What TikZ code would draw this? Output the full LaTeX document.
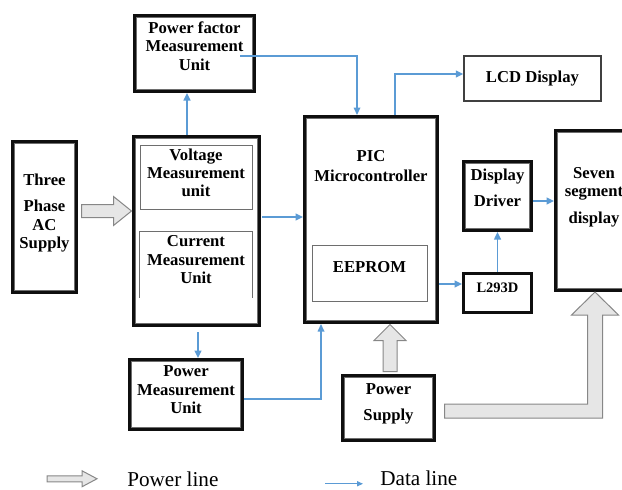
\documentclass[tikz,border=0pt]{standalone}
\usepackage{fontspec}
\setmainfont{Liberation Serif}
\usetikzlibrary{arrows.meta,positioning,calc}
\definecolor{bkedge}{RGB}{15,15,15}
\definecolor{bkinner}{RGB}{110,110,110}
\definecolor{bkdata}{RGB}{91,155,213}
\definecolor{bkpwr}{RGB}{230,230,230}
\definecolor{bkpwredge}{RGB}{135,135,135}
\tikzset{
  dbl/.style={draw=bkedge, line width=1.8pt, inner sep=0pt},
  frame/.style={draw=bkinner, line width=0.5pt},
  sub/.style={draw=bkinner, line width=0.6pt, inner sep=0pt},
  lcdbox/.style={draw=black!75, line width=0.9pt, inner sep=0pt, font=\fontsize{10}{11}\selectfont\bfseries},
  txt/.style={align=center, inner sep=0pt, font=\fontsize{10}{11}\selectfont\bfseries},
  dat/.style={-{Triangle[length=4.5pt,width=4pt]}, draw=bkdata, line width=1.1pt},
  tdat/.style={dat, line width=0.7pt},
  pwr/.style={draw=bkpwredge, fill=bkpwr, line width=0.6pt, line join=miter},
  leg/.style={font=\fontsize{12.7}{14}\selectfont, inner sep=0pt}
}
\begin{document}
\begin{tikzpicture}[x=0.6pt, y=-0.6pt]
  \useasboundingbox (0,0) rectangle (622,489);
  \clip (0,0) rectangle (622,489);

  % boxes
  \node[dbl, minimum width=38.4pt, minimum height=90.6pt] (tp) at (44.5,217) {};
  \node[txt, below=20.4pt of tp.north] (tp-t) {Three\\[4.5pt]Phase\\AC\\Supply};

  \node[dbl, minimum width=72pt, minimum height=45.6pt] (pf) at (194.5,53.5) {};
  \node[txt, below=4.4pt of pf.north] (pf-t) {Power factor\\Measurement\\Unit};

  \node[dbl, minimum width=75.6pt, minimum height=113.4pt] (vc) at (196.5,231) {};
  \node[sub, minimum width=67.2pt, minimum height=38.4pt] (vol) at (196,177) {};
  \node[txt, below=2.3pt of vol.north] (vol-t) {Voltage\\Measurement\\unit};
  \node[sub, draw=none, minimum width=67.2pt, minimum height=39pt] (cur) at (196,264.5) {};
  \node[txt, below=2.3pt of cur.north] (cur-t) {Current\\Measurement\\Unit};

  \node[dbl, minimum width=67.8pt, minimum height=42pt] (pm) at (186,394.5) {};
  \node[txt, below=4.6pt of pm.north] (pm-t) {Power\\Measurement\\Unit};

  \node[dbl, minimum width=79.8pt, minimum height=123.6pt] (pic) at (371,219.5) {};
  \node[txt, below=21pt of pic.north] (pic-t) {PIC\\[0.8pt]Microcontroller};
  \node[sub, minimum width=69pt, minimum height=33.6pt] (eep) at (369.5,273) {};
  \node[txt, below=10pt of eep.north] (eep-t) {EEPROM};

  \node[dbl, minimum width=55.2pt, minimum height=39pt] (ps) at (388.5,408) {};
  \node[txt, below=5.4pt of ps.north] (ps-t) {Power\\[5pt]Supply};

  \node[lcdbox, minimum width=82.2pt, minimum height=27pt] (lcd) at (532.5,78.5) {LCD Display};

  \node[dbl, minimum width=40.8pt, minimum height=41.4pt] (dd) at (497.5,196) {};
  \node[txt, below=5pt of dd.north] (dd-t) {Display\\[5pt]Driver};

  \node[dbl, minimum width=40.8pt, minimum height=23.4pt] (l293) at (497.5,292.5) {};
  \node[txt, font=\fontsize{8.7}{10}\selectfont\bfseries, below=6.7pt of l293.north] (l293-t) {L293D};

  \node[dbl, minimum width=46.2pt, minimum height=96pt] (seg) at (594,210.5) {};
  \node[txt, below=22.8pt of seg.north] (seg-t) {Seven\\segment\\[5pt]display};

  % inner frames
  \foreach \n in {tp,pf,vc,pm,pic,ps,dd,seg}
    \draw[frame] ($(\n.north west)+(2.1pt,-2.1pt)$) rectangle ($(\n.south east)+(-2.1pt,2.1pt)$);
  \draw[sub] (cur.south west) |- (cur.north east) -- (cur.south east);

  % data lines
  \coordinate (up) at ($(vc.north)+(-9.5,0)$);
  \draw[dat] (up) -- (up |- pf.south);
  \draw[dat] ($(vc.east)+(1,-14)$) -- ($(pic.west)+(0,-2.5)$);
  \draw[dat] ($(vc.south)+(1.5,5)$) -- ($(pm.north)+(12,0)$);
  \draw[tdat] ($(pf.center)+(45.5,2.5)$) -| ($(pic.north)+(-14,0)$);
  \draw[dat] ($(pic.north)+(24,0)$) |- ($(lcd.west)+(0,-4.5)$);
  \draw[dat] ($(pic.east)+(0,64.5)$) -- ($(l293.west)+(0,-8.5)$);
  \draw[dat] (l293.north) -- (dd.south);
  \draw[dat] ($(dd.east)+(0,5)$) -- ($(seg.west)+(0,-9.5)$);
  \draw[tdat] ($(pm.east)+(0,4.5)$) -| ($(pic.south)+(-50,0)$);

  % power lines
  \draw[pwr] ($(tp.east)+(3.5,-12.5)$) -- ++(32,0) -- ++(0,-8) -- ++(18,14.5)
    -- ++(-18,14.5) -- ++(0,-8) -- ++(-32,0) -- cycle;
  \draw[pwr] ($(ps.north)+(-5.5,-2.5)$) -- ++(0,-31) -- ++(-9,0) -- ++(16,-16)
    -- ++(16,16) -- ++(-9,0) -- ++(0,31) -- cycle;
  \draw[pwr] ($(ps.east)+(8.5,-4)$) -- ++(143,0) -- ++(0,-89) -- ++(-16,0)
    -- ++(23.5,-23) -- ++(23.5,23) -- ++(-16,0) -- ++(0,103) -- ++(-158,0) -- cycle;

  % legend
  \node[leg, anchor=base west] (pl) at (127,486) {Power line};
  \node[leg, anchor=base west] (dl) at (380,485) {Data line};
  \draw[pwr] ($(pl.west)+(-80,-3)$) -- ++(35,0) -- ++(0,-5) -- ++(15,8)
    -- ++(-15,8) -- ++(0,-5) -- ++(-35,0) -- cycle;
  \draw[tdat, -{Triangle[length=3.5pt,width=3pt]}] ($(dl.west)+(-55,6)$) -- ($(dl.west)+(-17,6)$);
\end{tikzpicture}
\end{document}
